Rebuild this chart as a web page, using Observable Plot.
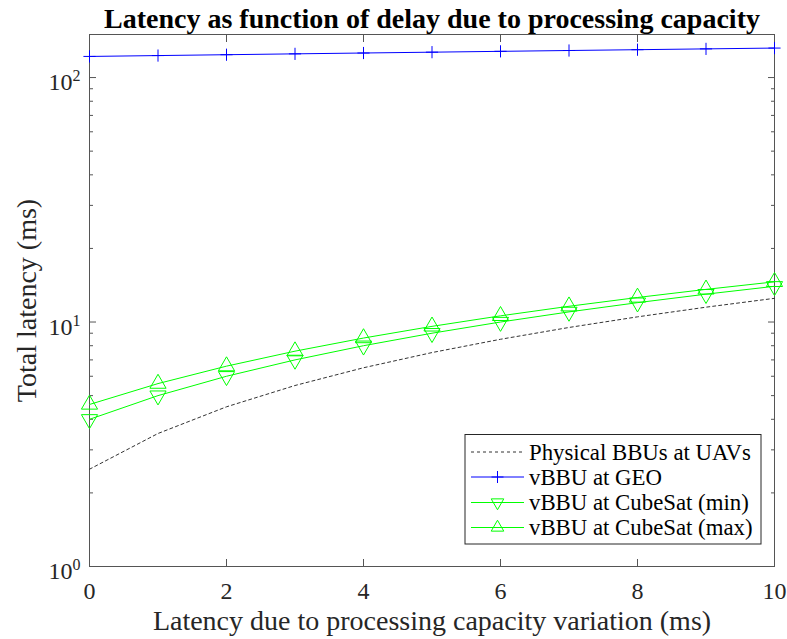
<!DOCTYPE html>
<html><head><meta charset="utf-8">
<script src="https://cdn.jsdelivr.net/npm/d3@7"></script>
<script src="https://cdn.jsdelivr.net/npm/@observablehq/plot@0.6"></script>
<style>
body{margin:0;background:#fff}
#chart{width:787px;height:639px}
</style>
</head><body><div id="chart"></div>
<script>
const title = "Latency as function of delay due to processing capacity";
const xLabel = "Latency due to processing capacity variation (ms)";
const yLabel = "Total latency (ms)";
const xTicks = [0, 2, 4, 6, 8, 10];
const yMajorTicks = [1, 10, 100];
const yMinorTicks = [2, 3, 4, 5, 6, 7, 8, 9, 20, 30, 40, 50, 60, 70, 80, 90];
const delay = [0, 1, 2, 3, 4, 5, 6, 7, 8, 9, 10];
const physicalBBU = [2.5, 3.5, 4.5, 5.5, 6.5, 7.5, 8.5, 9.5, 10.5, 11.5, 12.5];
const geoVBBU = [122, 123, 124, 125, 126, 127, 128, 129, 130, 131, 132];
const cubeSatMin = [4.0, 5.0, 6.0, 7.0, 8.0, 9.0, 10.0, 11.0, 12.0, 13.0, 14.0];
const cubeSatMax = [4.6, 5.6, 6.6, 7.6, 8.6, 9.6, 10.6, 11.6, 12.6, 13.6, 14.6];
const seriesNames = ["Physical BBUs at UAVs", "vBBU at GEO", "vBBU at CubeSat (min)", "vBBU at CubeSat (max)"];

const rows = (vals) => delay.map((x, i) => ({x, y: vals[i]}));
const phys = rows(physicalBBU), geo = rows(geoVBBU), cmin = rows(cubeSatMin), cmax = rows(cubeSatMax);

const FONT = "'Liberation Serif', 'Times New Roman', serif";
const AX = "#555";
const BLUE = "#0000ff", GREEN = "#00ff00";

const plot = Plot.plot({
  width: 787, height: 639,
  marginLeft: 89, marginRight: 13, marginTop: 34, marginBottom: 73,
  style: {fontFamily: FONT, background: "#fff", overflow: "visible"},
  x: {domain: [0, 10]},
  y: {type: "log", domain: [1, 150]},
  marks: [
    Plot.frame({stroke: AX}),
    // inward ticks
    Plot.axisX({ticks: xTicks, anchor: "bottom", tickSize: 7, dy: -7, fill: "none", stroke: AX, label: null}),
    Plot.axisX({ticks: xTicks, anchor: "top", tickSize: 7, dy: 7, fill: "none", stroke: AX, label: null}),
    Plot.axisY({ticks: yMajorTicks, anchor: "left", tickSize: 7, dx: 7, fill: "none", stroke: AX, label: null}),
    Plot.axisY({ticks: yMinorTicks, anchor: "left", tickSize: 4, dx: 4, fill: "none", stroke: AX, label: null}),
    Plot.axisY({ticks: yMajorTicks, anchor: "right", tickSize: 7, dx: -7, fill: "none", stroke: AX, label: null}),
    Plot.axisY({ticks: yMinorTicks, anchor: "right", tickSize: 4, dx: -4, fill: "none", stroke: AX, label: null}),
    // tick labels
    Plot.axisX({ticks: xTicks, anchor: "bottom", tickSize: 0, tickPadding: 15, fontSize: 24, fill: "#262626", label: null}),
    Plot.axisY({ticks: yMajorTicks, anchor: "left", tickSize: 0, tickPadding: 9, fontSize: 24, fill: "#262626", label: null,
      dy: 5, tickFormat: d => "10^" + Math.round(Math.log10(d))}),
    // data
    Plot.line(phys, {x: "x", y: "y", stroke: "#333", strokeWidth: 1, strokeDasharray: "3,3"}),
    Plot.line(geo, {x: "x", y: "y", stroke: BLUE, strokeWidth: 1}),
    Plot.dot(geo, {x: "x", y: "y", symbol: "plus", r: 4, stroke: BLUE, strokeWidth: 1}),
    Plot.line(cmin, {x: "x", y: "y", stroke: GREEN, strokeWidth: 1}),
    Plot.dot(cmin, {x: "x", y: "y", symbol: "triangle", rotate: 180, r: 6, stroke: GREEN, strokeWidth: 1}),
    Plot.line(cmax, {x: "x", y: "y", stroke: GREEN, strokeWidth: 1}),
    Plot.dot(cmax, {x: "x", y: "y", symbol: "triangle", r: 6, stroke: GREEN, strokeWidth: 1}),
    // title and axis labels
    Plot.text([title], {frameAnchor: "top", lineAnchor: "middle", textAnchor: "middle", dy: -15, fontSize: 28, fontWeight: "bold", fill: "#000", text: d => d}),
    Plot.text([xLabel], {frameAnchor: "bottom", lineAnchor: "middle", textAnchor: "middle", dy: 55, fontSize: 28, fill: "#262626", text: d => d}),
    Plot.text([yLabel], {frameAnchor: "left", lineAnchor: "middle", textAnchor: "middle", dx: -62, rotate: -90, fontSize: 28, fill: "#262626", text: d => d})
  ]
});
document.getElementById("chart").appendChild(plot);

// superscript exponents on the y tick labels
d3.select(plot).selectAll('g[aria-label="y-axis tick label"] text').each(function() {
  const t = d3.select(this);
  const s = t.text();
  if (!s.includes("^")) return;
  const [b, e] = s.split("^");
  t.text(null);
  t.append("tspan").text(b);
  t.append("tspan").attr("dy", "-0.55em").attr("font-size", "16px").text(e);
});

// legend (layout only)
const svg = d3.select(plot);
const lg = svg.append("g").attr("font-family", FONT).attr("font-size", 22.8).attr("text-anchor", "start");
const bx = 465, by = 434.5, bw = 296, bh = 109.5;
lg.append("rect").attr("x", bx).attr("y", by).attr("width", bw).attr("height", bh)
  .attr("fill", "#fff").attr("stroke", "#262626").attr("stroke-width", 1);
const rowY = [452, 477, 502.5, 527.5];
const styles = [
  {stroke: "#333", dash: "3,3", sym: null},
  {stroke: BLUE, dash: null, sym: "plus"},
  {stroke: GREEN, dash: null, sym: "down"},
  {stroke: GREEN, dash: null, sym: "up"}
];
seriesNames.forEach((name, i) => {
  const y = rowY[i], st = styles[i];
  const x0 = 471, x1 = 524, cx = (x0 + x1) / 2;
  lg.append("line").attr("x1", x0).attr("x2", x1).attr("y1", y).attr("y2", y)
    .attr("stroke", st.stroke).attr("stroke-width", 1).attr("stroke-dasharray", st.dash);
  if (st.sym === "plus") {
    lg.append("path").attr("d", `M${cx},${y - 6}V${y + 6}M${cx - 6},${y}H${cx + 6}`).attr("stroke", st.stroke).attr("fill", "none");
  } else if (st.sym) {
    const p = d3.symbol(d3.symbolTriangle2, Math.PI * 36)();
    lg.append("path").attr("d", p).attr("transform", `translate(${cx},${y}) rotate(${st.sym === "down" ? 180 : 0})`)
      .attr("stroke", st.stroke).attr("fill", "none");
  }
  lg.append("text").attr("x", 529).attr("y", y).attr("dy", "0.35em").attr("fill", "#000").text(name);
});
</script>
</body></html>
